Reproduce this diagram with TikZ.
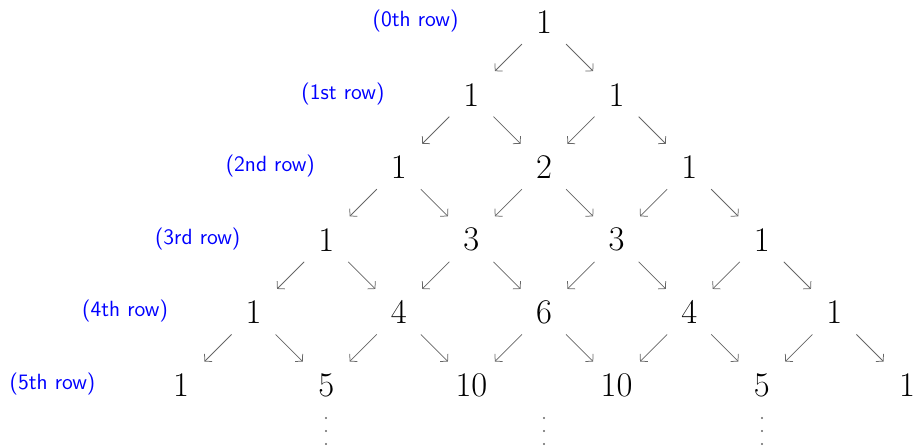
\documentclass[tikz,border=0pt]{standalone}
\usetikzlibrary{arrows.meta}
\begin{document}
\begin{tikzpicture}[x=0.6pt,y=-0.6pt,
  num/.style={font=\fontsize{20.74}{24}\selectfont, inner sep=0pt},
  lab/.style={font=\sffamily\fontsize{13.2}{15}\selectfont, text=blue, inner sep=0pt},
  arr/.style={-{Straight Barb[length=3pt,width=6.5pt]}, draw=black!60, line width=0.45pt, shorten <=18.7pt, shorten >=19.9pt},
  dotc/.style={fill=black!60}]
\useasboundingbox (0,0) rectangle (915,447);
% numbers
\node[num] (n0-0) at (544,22) {1};
\node[num] (n1-0) at ({544-72.6},{22+72.6}) {1};
\node[num] (n1-1) at ({544+72.6},{22+72.6}) {1};
\node[num] (n2-0) at ({544-2*72.6},{22+2*72.6}) {1};
\node[num] (n2-1) at (544,{22+2*72.6}) {2};
\node[num] (n2-2) at ({544+2*72.6},{22+2*72.6}) {1};
\node[num] (n3-0) at ({544-3*72.6},{22+3*72.6}) {1};
\node[num] (n3-1) at ({544-72.6},{22+3*72.6}) {3};
\node[num] (n3-2) at ({544+72.6},{22+3*72.6}) {3};
\node[num] (n3-3) at ({544+3*72.6},{22+3*72.6}) {1};
\node[num] (n4-0) at ({544-4*72.6},{22+4*72.6}) {1};
\node[num] (n4-1) at ({544-2*72.6},{22+4*72.6}) {4};
\node[num] (n4-2) at (544,{22+4*72.6}) {6};
\node[num] (n4-3) at ({544+2*72.6},{22+4*72.6}) {4};
\node[num] (n4-4) at ({544+4*72.6},{22+4*72.6}) {1};
\node[num] (n5-0) at ({544-5*72.6},{22+5*72.6}) {1};
\node[num] (n5-1) at ({544-3*72.6},{22+5*72.6}) {5};
\node[num] (n5-2) at ({544-72.6},{22+5*72.6}) {10};
\node[num] (n5-3) at ({544+72.6},{22+5*72.6}) {10};
\node[num] (n5-4) at ({544+3*72.6},{22+5*72.6}) {5};
\node[num] (n5-5) at ({544+5*72.6},{22+5*72.6}) {1};
% row labels
\node[lab] (l0) at ({544-128.5},21) {(0th row)};
\node[lab] (l1) at ({544-72.6-128.5},{21+72.6}) {(1st row)};
\node[lab] (l2) at ({544-2*72.6-128.5},{21+2*72.6}) {(2nd row)};
\node[lab] (l3) at ({544-3*72.6-128.5},{21+3*72.6}) {(3rd row)};
\node[lab] (l4) at ({544-4*72.6-128.5},{21+4*72.6}) {(4th row)};
\node[lab] (l5) at ({544-5*72.6-128.5},{21+5*72.6}) {(5th row)};
% arrows
\foreach \r in {0,...,4}{
  \pgfmathtruncatemacro\rn{\r+1}
  \foreach \k in {0,...,\r}{
    \pgfmathtruncatemacro\kn{\k+1}
    \draw[arr] (n\r-\k.center) -- (n\rn-\k.center);
    \draw[arr] (n\r-\k.center) -- (n\rn-\kn.center);
  }
}
% vertical dots
\foreach \x in {326,544,762}{
  \foreach \y in {418,431,444}{
    \fill[dotc] (\x,\y) circle[radius=0.65pt];
  }
}
\end{tikzpicture}
\end{document}
